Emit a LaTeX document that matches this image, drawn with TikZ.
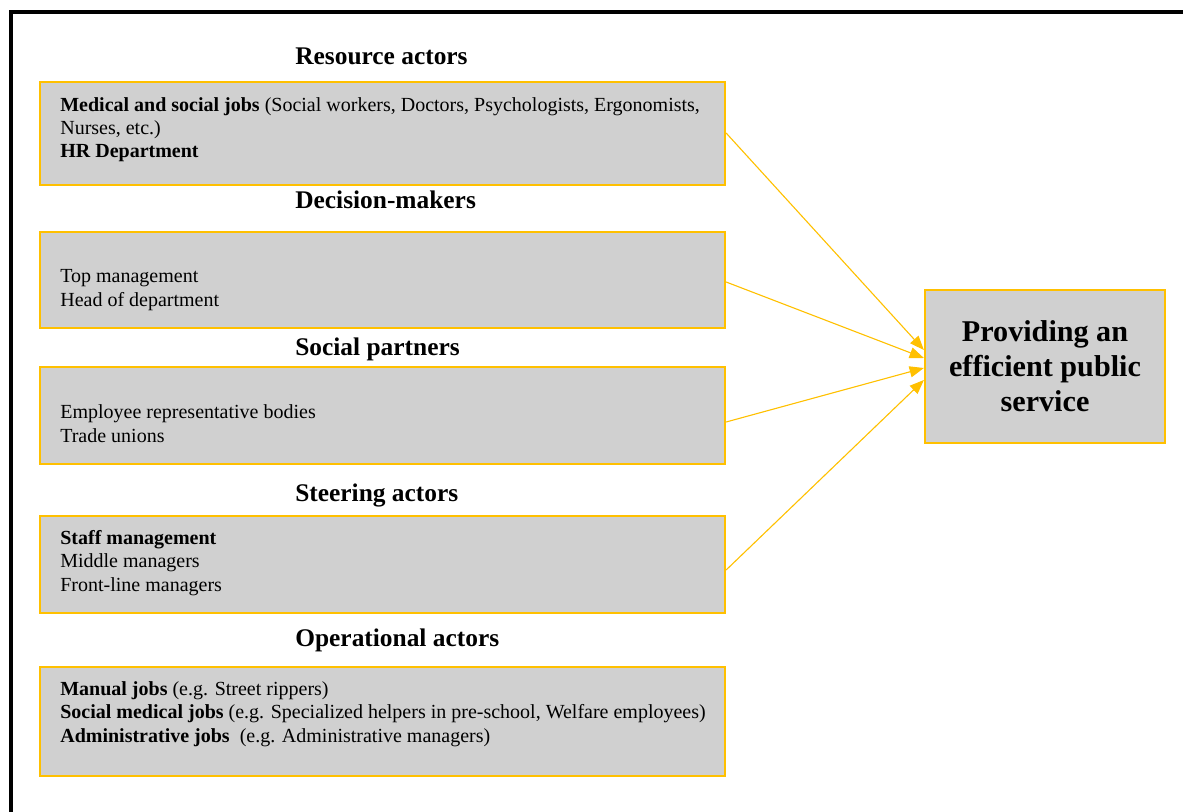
\documentclass[tikz,border=0pt]{standalone}
\usepackage{fontspec}
\setmainfont{Liberation Serif}
\usetikzlibrary{arrows.meta,fit}

\definecolor{boxgold}{HTML}{FFC000}
\definecolor{boxgray}{HTML}{D0D0D0}

\tikzset{
    actorbox/.style={draw=boxgold, line width=1.4pt, fill=boxgray, inner sep=0pt},
    heading/.style={anchor=base west, inner sep=0pt, font=\fontsize{16}{19}\selectfont\bfseries},
    boxtext/.style={anchor=base west, inner sep=0pt, align=left, font=\fontsize{12.6}{14.5}\selectfont},
    link/.style={draw=boxgold, line width=0.7pt, -{Triangle[length=9pt, width=7pt]}}
}

\begin{document}
\begin{tikzpicture}[x=0.63pt, y=-0.63pt]
        \useasboundingbox (0,0) rectangle (1183,812);
        \draw[line width=2.5pt] (11,900) -- (11,12) -- (1300,12);

        \node[actorbox, fit={(40,82) (725,185)}] (res) {};
        \node[actorbox, fit={(40,232) (725,328)}] (dec) {};
        \node[actorbox, fit={(40,367) (725,464)}] (soc) {};
        \node[actorbox, fit={(40,516) (725,613)}] (ste) {};
        \node[actorbox, fit={(40,667) (725,776)}] (ope) {};
        \node[actorbox, fit={(925,290) (1165,443)}] (goal) {};

        \node[heading] (resh) at (295,65) {Resource actors};
        \node[heading] (dech) at (295,209) {Decision-makers};
        \node[heading] (soch) at (295,355) {Social partners};
        \node[heading] (steh) at (295,501) {Steering actors};
        \node[heading] (opeh) at (295,646) {Operational actors};

        \node[boxtext] (rest) at (60,158) {\textbf{Medical and social jobs} (Social workers, Doctors, Psychologists, Ergonomists,\\Nurses, etc.)\\\textbf{HR Department}};
        \node[boxtext] (dect) at (60,306) {Top management\\Head of department};
        \node[boxtext] (soct) at (60,442) {Employee representative bodies\\Trade unions};
        \node[boxtext] (stet) at (60,591) {\textbf{Staff management}\\Middle managers\\Front-line managers};
        \node[boxtext] (opet) at (60,742) {\textbf{Manual jobs} (e.g. Street rippers)\\\textbf{Social medical jobs} (e.g. Specialized helpers in pre-school, Welfare employees)\\\textbf{Administrative jobs}\ \ (e.g. Administrative managers)};

        \node[align=center, font=\fontsize{19}{22}\selectfont\bfseries] (goalt) at (goal.center) {Providing an\\efficient public\\service};

        \foreach \a/\s/\t in {res/133/350, dec/282/358, soc/422/368, ste/570/380} {
            \draw[link] (\a.east |- 0,\s) -- (goal.west |- 0,\t);
        }
    \end{tikzpicture}
\end{document}
